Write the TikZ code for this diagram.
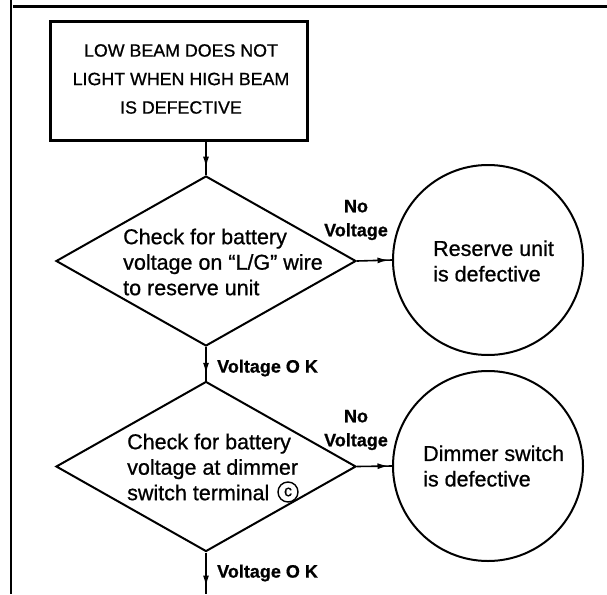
\documentclass[tikz,border=0pt]{standalone}
\usepackage{fontspec}
\setmainfont{Liberation Sans}[FakeBold=0.8]
\usetikzlibrary{shapes.geometric,arrows.meta,decorations.markings}
\begin{document}
\begin{tikzpicture}[x=1pt,y=-1pt,
  box/.style={draw,line width=3pt,rectangle,inner sep=0pt,minimum width=257pt,minimum height=118pt},
  dia/.style={draw,line width=2pt,diamond,inner sep=0pt,minimum width=300pt,minimum height=170pt},
  endcirc/.style={draw,line width=2pt,circle,inner sep=0pt,minimum size=190pt},
  bodytext/.style={anchor=west,align=left,inner sep=0pt,font=\fontsize{21.5}{25.5}\selectfont},
  titletext/.style={align=center,inner sep=0pt,font=\fontsize{17.8}{28.5}\selectfont},
  lbl/.style={inner sep=0pt,align=center,font=\bfseries\fontsize{18}{24}\selectfont},
  cmarkstyle/.style={draw,circle,line width=1.4pt,inner sep=0pt,minimum size=20pt,font=\fontsize{16}{16}\selectfont},
  conn/.style={line width=1.6pt},
  midarrow/.style={decoration={markings,mark=at position #1 with {\arrow{Latex[length=11pt,width=6pt]}}},postaction={decorate}}
]
\useasboundingbox (0,0) rectangle (607,594);
% frame
\coordinate (fl1) at (11,0);
\coordinate (fl2) at (11,594);
\coordinate (ft1) at (13,6.5);
\coordinate (ft2) at (607,6.5);
\draw[line width=2pt] (fl1) -- (fl2);
\draw[line width=3pt] (ft1) -- (ft2);

% title box
\node[box] (title) at (178.5,81) {};
\node[titletext] (titlet) at (181,79) {LOW BEAM DOES NOT\\LIGHT WHEN HIGH BEAM\\IS DEFECTIVE};

% first decision
\node[dia] (d1) at (206,261) {};
\node[bodytext] (d1t) at (123,262) {Check for battery\\voltage on ``L/G'' wire\\to reserve unit};
\node[endcirc] (c1) at (488,260) {};
\node[bodytext] (c1t) at (433,261) {Reserve unit\\is defective};

% second decision
\node[dia] (d2) at (206,466.5) {};
\node[bodytext] (d2t) at (127,467) {Check for battery\\voltage at dimmer\\switch terminal};
\node[cmarkstyle] (cmark) at (288,492) {c};
\node[endcirc] (c2) at (488,466) {};
\node[bodytext] (c2t) at (423,466) {Dimmer switch\\is defective};

\coordinate (tstem) at (206,141.5);
\coordinate (fend) at (206,594);

% connectors
\draw[conn,midarrow=0.78] (tstem) -- (d1.north);
\draw[conn,midarrow=0.9] (d1.east) -- (c1.west);
\draw[conn,midarrow=0.8] (d1.south) -- (d2.north);
\draw[conn,midarrow=0.9] (d2.east) -- (c2.west);
\draw[conn,midarrow=0.82] (d2.south) -- (fend);

% labels
\node[lbl] (l1) at (356,220) {No\\Voltage};
\node[lbl,anchor=west] (l2) at (217,368) {Voltage O K};
\node[lbl] (l3) at (356,430) {No\\Voltage};
\node[lbl,anchor=west] (l4) at (217,573) {Voltage O K};
\end{tikzpicture}
\end{document}
